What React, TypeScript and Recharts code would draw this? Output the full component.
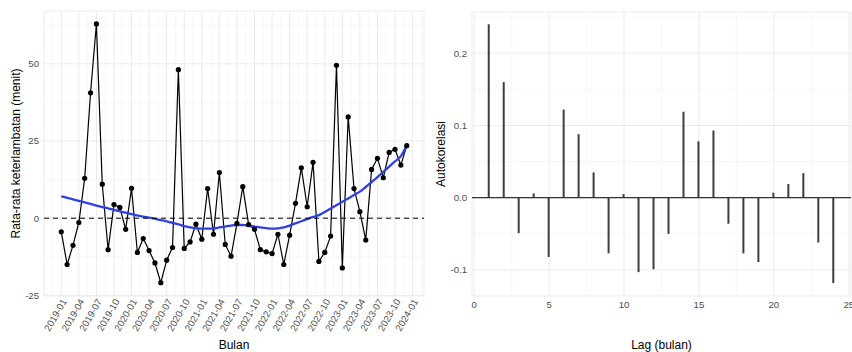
import {
  LineChart,
  Line,
  BarChart,
  Bar,
  XAxis,
  YAxis,
  CartesianGrid,
  ReferenceLine,
  Label,
} from "recharts"

// monthly average delay, 2019-01 .. 2023-12
const delays = [
  -4.4, -15.0, -8.8, -1.4, 12.9, 40.6, 62.9, 11.0, -10.2, 4.4, 3.5, -3.6,
  9.7, -11.1, -6.6, -10.5, -14.5, -20.9, -13.6, -9.5, 48.1, -9.8, -7.7, -1.9,
  -6.8, 9.6, -5.2, 14.8, -8.5, -12.3, -1.7, 10.2, -2.1, -3.6, -10.2, -10.9,
  -11.5, -5.2, -15.0, -5.5, 4.8, 16.3, 3.7, 18.1, -14.0, -11.1, -5.8, 49.5,
  -16.1, 32.8, 9.6, 2.1, -7.1, 15.8, 19.4, 13.1, 21.3, 22.3, 17.2, 23.5,
]

// loess trend
const trend = [
  7.1, 6.6, 6.1, 5.6, 5.1, 4.6, 4.1, 3.6, 3.2, 2.7, 2.2, 1.8,
  1.3, 0.9, 0.5, 0.2, -0.2, -0.6, -1.0, -1.5, -2.0, -2.6, -3.0, -3.3,
  -3.4, -3.4, -3.3, -3.0, -2.7, -2.4, -2.2, -2.2, -2.4, -2.7, -3.0, -3.2,
  -3.4, -3.3, -3.0, -2.4, -1.7, -1.0, -0.3, 0.4, 1.0, 2.0, 3.1, 4.2,
  5.3, 6.4, 7.5, 8.6, 10.1, 11.7, 13.3, 15.0, 16.7, 18.4, 20.1, 23.5,
]

const monthTicks = [
  "2019-01", "2019-04", "2019-07", "2019-10", "2020-01", "2020-04", "2020-07",
  "2020-10", "2021-01", "2021-04", "2021-07", "2021-10", "2022-01", "2022-04",
  "2022-07", "2022-10", "2023-01", "2023-04", "2023-07", "2023-10", "2024-01",
]

const lags = [1, 2, 3, 4, 5, 6, 7, 8, 9, 10, 11, 12, 13, 14, 15, 16, 17, 18, 19, 20, 21, 22, 23, 24]
const acf = [
  0.24, 0.16, -0.049, 0.006, -0.082, 0.122, 0.088, 0.035, -0.077, 0.005, -0.103, -0.099,
  -0.05, 0.119, 0.078, 0.093, -0.036, -0.077, -0.089, 0.007, 0.019, 0.034, -0.062, -0.118,
]

const lineData = delays.map((v, i) => ({ idx: i, value: v, smooth: trend[i] }))
const acfData = lags.map((lag, i) => ({ lag, acf: acf[i] }))

const FONT = "'Liberation Sans', Arial, sans-serif"
const tickStyle = { fontSize: 9.6, fill: "#4D4D4D", fontFamily: FONT }
const titleStyle = { fontSize: 12, fill: "#000", fontFamily: FONT, textAnchor: "middle" as const }

const monthTickIdx = monthTicks.map((_, i) => i * 3)
const monthMinor = Array.from({ length: 22 }, (_, i) => i * 3 - 1.5)

function DelayChart() {
  return (
    <LineChart
      width={430}
      height={352}
      data={lineData}
      margin={{ top: 11, right: 6, bottom: 0, left: 0 }}
    >
      <CartesianGrid
        stroke="#F2F2F2"
        strokeWidth={0.6}
        verticalValues={monthMinor}
        horizontalValues={[-12.5, 12.5, 37.5, 62.5]}
      />
      <CartesianGrid stroke="#EBEBEB" strokeWidth={1} />
      <XAxis
        type="number"
        dataKey="idx"
        domain={[-2.95, 61.95]}
        ticks={monthTickIdx}
        interval={0}
        tickFormatter={(v) => monthTicks[Math.round(v / 3)]}
        axisLine={false}
        tickLine={false}
        tickSize={0}
        tickMargin={2}
        angle={-60}
        textAnchor="end"
        height={56}
        tick={tickStyle}
      >
        <Label value="Bulan" position="insideBottom" offset={3} style={titleStyle} />
      </XAxis>
      <YAxis
        type="number"
        domain={[-25.2, 67.1]}
        ticks={[-25, 0, 25, 50]}
        interval={0}
        axisLine={false}
        tickLine={false}
        tickSize={0}
        tickMargin={5}
        width={44}
        tick={tickStyle}
      >
        <Label
          value="Rata-rata keterlambatan (menit)"
          angle={-90}
          position="insideLeft"
          offset={16}
          style={titleStyle}
        />
      </YAxis>
      <Line
        type="linear"
        dataKey="value"
        stroke="#000"
        strokeWidth={1.2}
        dot={{ r: 2.6, fill: "#000", stroke: "#000", strokeWidth: 0 }}
        isAnimationActive={false}
      />
      <Line
        type="monotone"
        dataKey="smooth"
        stroke="#3040E0"
        strokeWidth={2.3}
        dot={false}
        isAnimationActive={false}
      />
      <ReferenceLine y={0} stroke="#000" strokeWidth={1} strokeDasharray="5 4" />
    </LineChart>
  )
}

function AcfChart() {
  return (
    <BarChart
      width={422}
      height={352}
      data={acfData}
      margin={{ top: 12, right: 1, bottom: 0, left: 0 }}
    >
      <CartesianGrid
        stroke="#F2F2F2"
        strokeWidth={0.6}
        verticalValues={[2.5, 7.5, 12.5, 17.5, 22.5]}
        horizontalValues={[-0.05, 0.05, 0.15, 0.25]}
      />
      <CartesianGrid stroke="#EBEBEB" strokeWidth={1} />
      <XAxis
        type="number"
        dataKey="lag"
        domain={[-0.15, 25.15]}
        ticks={[0, 5, 10, 15, 20, 25]}
        interval={0}
        axisLine={false}
        tickLine={false}
        tickSize={0}
        tickMargin={5}
        height={56}
        tick={tickStyle}
      >
        <Label value="Lag (bulan)" position="insideBottom" offset={3} style={titleStyle} />
      </XAxis>
      <YAxis
        type="number"
        domain={[-0.136, 0.257]}
        ticks={[-0.1, 0, 0.1, 0.2]}
        interval={0}
        tickFormatter={(v) => v.toFixed(1)}
        axisLine={false}
        tickLine={false}
        tickSize={0}
        tickMargin={5}
        width={42}
        tick={tickStyle}
      >
        <Label value="Autokorelasi" angle={-90} position="insideLeft" offset={11} style={titleStyle} />
      </YAxis>
      <ReferenceLine y={0} stroke="#333" strokeWidth={1.2} />
      <Bar dataKey="acf" fill="#3d3d3d" barSize={2} isAnimationActive={false} />
    </BarChart>
  )
}

export default function App() {
  return (
    <div
      style={{
        position: "absolute",
        left: 0,
        top: 0,
        width: 852,
        height: 352,
        background: "#fff",
        display: "flex",
        fontFamily: FONT,
      }}
    >
      <DelayChart />
      <AcfChart />
    </div>
  )
}
